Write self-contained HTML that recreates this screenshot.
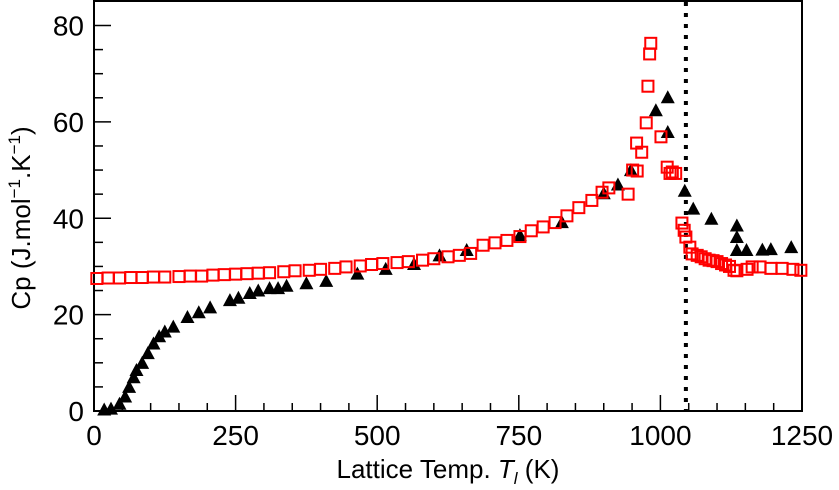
<!DOCTYPE html>
<html><head><meta charset="utf-8"><style>
html,body{margin:0;padding:0;background:#fff;}
svg{display:block;font-family:"Liberation Sans",sans-serif;}
</style></head><body>
<svg id="chart" width="839" height="490" viewBox="0 0 839 490">
<g id="axes"></g>
<g id="marks"></g>
</svg>
<script>
// Data arrays
const sqT = [5,25,45,65,85,105,125,150,170,190,210,230,250,270,290,310,335,355,380,400,425,445,470,490,510,535,555,580,600,625,645,665,687,708,729,752,772,793,814,835,856,879,897,909,943,951,959,958,967,975,978,981,983,1001,1012,1017,1021,1027,1038,1042,1045,1052,1056,1065,1072,1079,1086,1093,1100,1108,1115,1122,1130,1135,1153,1162,1176,1195,1215,1234,1248];
const sqCp = [27.5,27.6,27.6,27.7,27.7,27.8,27.8,27.9,28,28,28.2,28.3,28.4,28.5,28.6,28.7,28.9,29.1,29.2,29.4,29.6,29.9,30.1,30.4,30.6,30.8,31,31.3,31.6,32,32.3,32.7,34.4,34.9,35.4,36.2,37.4,38.2,39.1,40.5,42.2,43.7,45.4,46.3,45,50,49.8,55.6,53.7,59.8,67.4,74.1,76.3,56.9,50.6,49.3,49.6,49.3,39,37.5,36.1,34,32.6,32.3,32,31.6,31.3,31.2,31,30.6,30.3,30,29.2,29.1,29.4,29.9,29.9,29.6,29.6,29.4,29.2];
const triT = [18,30,45,55,62,70,75,85,95,105,115,125,140,165,185,205,240,255,275,290,310,325,340,375,410,465,515,565,610,658,752,826,900,925,948,992,1013,1013,1043,1058,1090,1135,1135,1135,1152,1180,1195,1231];
const triCp = [0.3,0.5,1.5,3,5,7,8.5,10,12,14,15.5,16.5,17.5,19.5,20.5,21.5,23,23.5,24.5,25,25.5,25.5,26,26.5,27,28.5,29.5,30.5,32.3,33.4,36.5,39.2,45.2,47,50,62.4,65.1,57.9,45.7,42,39.9,38.5,36.1,33.4,33.4,33.5,33.6,34];
const xTicks = [0,250,500,750,1000,1250];
const yTicks = [0,20,40,60,80];
const tc = 1045;

const X0=94,X1=802,Y0=411,Y1=25.5;
const xs=v=>X0+(v/1250)*(X1-X0);
const ys=v=>Y0-(v/80)*(Y0-Y1);
const NS='http://www.w3.org/2000/svg';
function mk(tag,attrs,parent){const e=document.createElementNS(NS,tag);for(const k in attrs)e.setAttribute(k,attrs[k]);parent.appendChild(e);return e;}
const ax=document.getElementById('axes'), mg=document.getElementById('marks');

let fr=mk('rect',{x:X0,y:1,width:X1-X0,height:Y0-1,fill:'none',stroke:'#000','stroke-width':2},ax);



for(let v=0;v<=1250;v+=50){const maj=v%250===0;
 let t=mk('line',{x1:xs(v),x2:xs(v),y1:Y0,y2:Y0-(maj?16:8),stroke:'#000','stroke-width':1.5},ax);
 
 }
for(let v=0;v<=80;v+=5){const maj=v%20===0;
 let t=mk('line',{x1:X0,x2:X0+(maj?17:9),y1:ys(v),y2:ys(v),stroke:'#000','stroke-width':1.5},ax);
 
 }
xTicks.forEach(v=>{let t=mk('text',{x:xs(v),y:445,'font-size':28,'text-anchor':'middle'},ax);t.textContent=v;
 
 });
yTicks.forEach(v=>{let t=mk('text',{x:84,y:ys(v)+10,'font-size':28,'text-anchor':'end'},ax);t.textContent=v;
 
 });

let xl=mk('text',{x:448,y:478,'font-size':26,'text-anchor':'middle'},ax);
xl.innerHTML='Lattice Temp. <tspan font-style="italic">T</tspan><tspan font-style="italic" font-size="17" dy="6">l</tspan><tspan dy="-6"> (K)</tspan>';


let yl=mk('text',{x:0,y:0,'font-size':26,'text-anchor':'middle',transform:'translate(30,218) rotate(-90)'},ax);
yl.innerHTML='Cp (J.mol<tspan font-size="17" dy="-10">−1</tspan><tspan dy="10">.K</tspan><tspan font-size="17" dy="-10">−1</tspan><tspan dy="10">)</tspan>';



let dl=mk('line',{x1:xs(tc),x2:xs(tc),y1:2,y2:Y0,stroke:'#000','stroke-width':4,'stroke-dasharray':'4 7'},mg);



triT.forEach((t,i)=>{const cx=xs(t),cy=ys(triCp[i]);
 let p=mk('polygon',{points:`${cx-7},${cy+6} ${cx+7},${cy+6} ${cx},${cy-7}`,fill:'#000'},mg);
 
 });
sqT.forEach((t,i)=>{const cx=xs(t),cy=ys(sqCp[i]);
 let r=mk('rect',{x:cx-5.5,y:cy-5.5,width:11,height:11,fill:'none',stroke:'#f00','stroke-width':2},mg);
 
 });
</script>
</body></html>
